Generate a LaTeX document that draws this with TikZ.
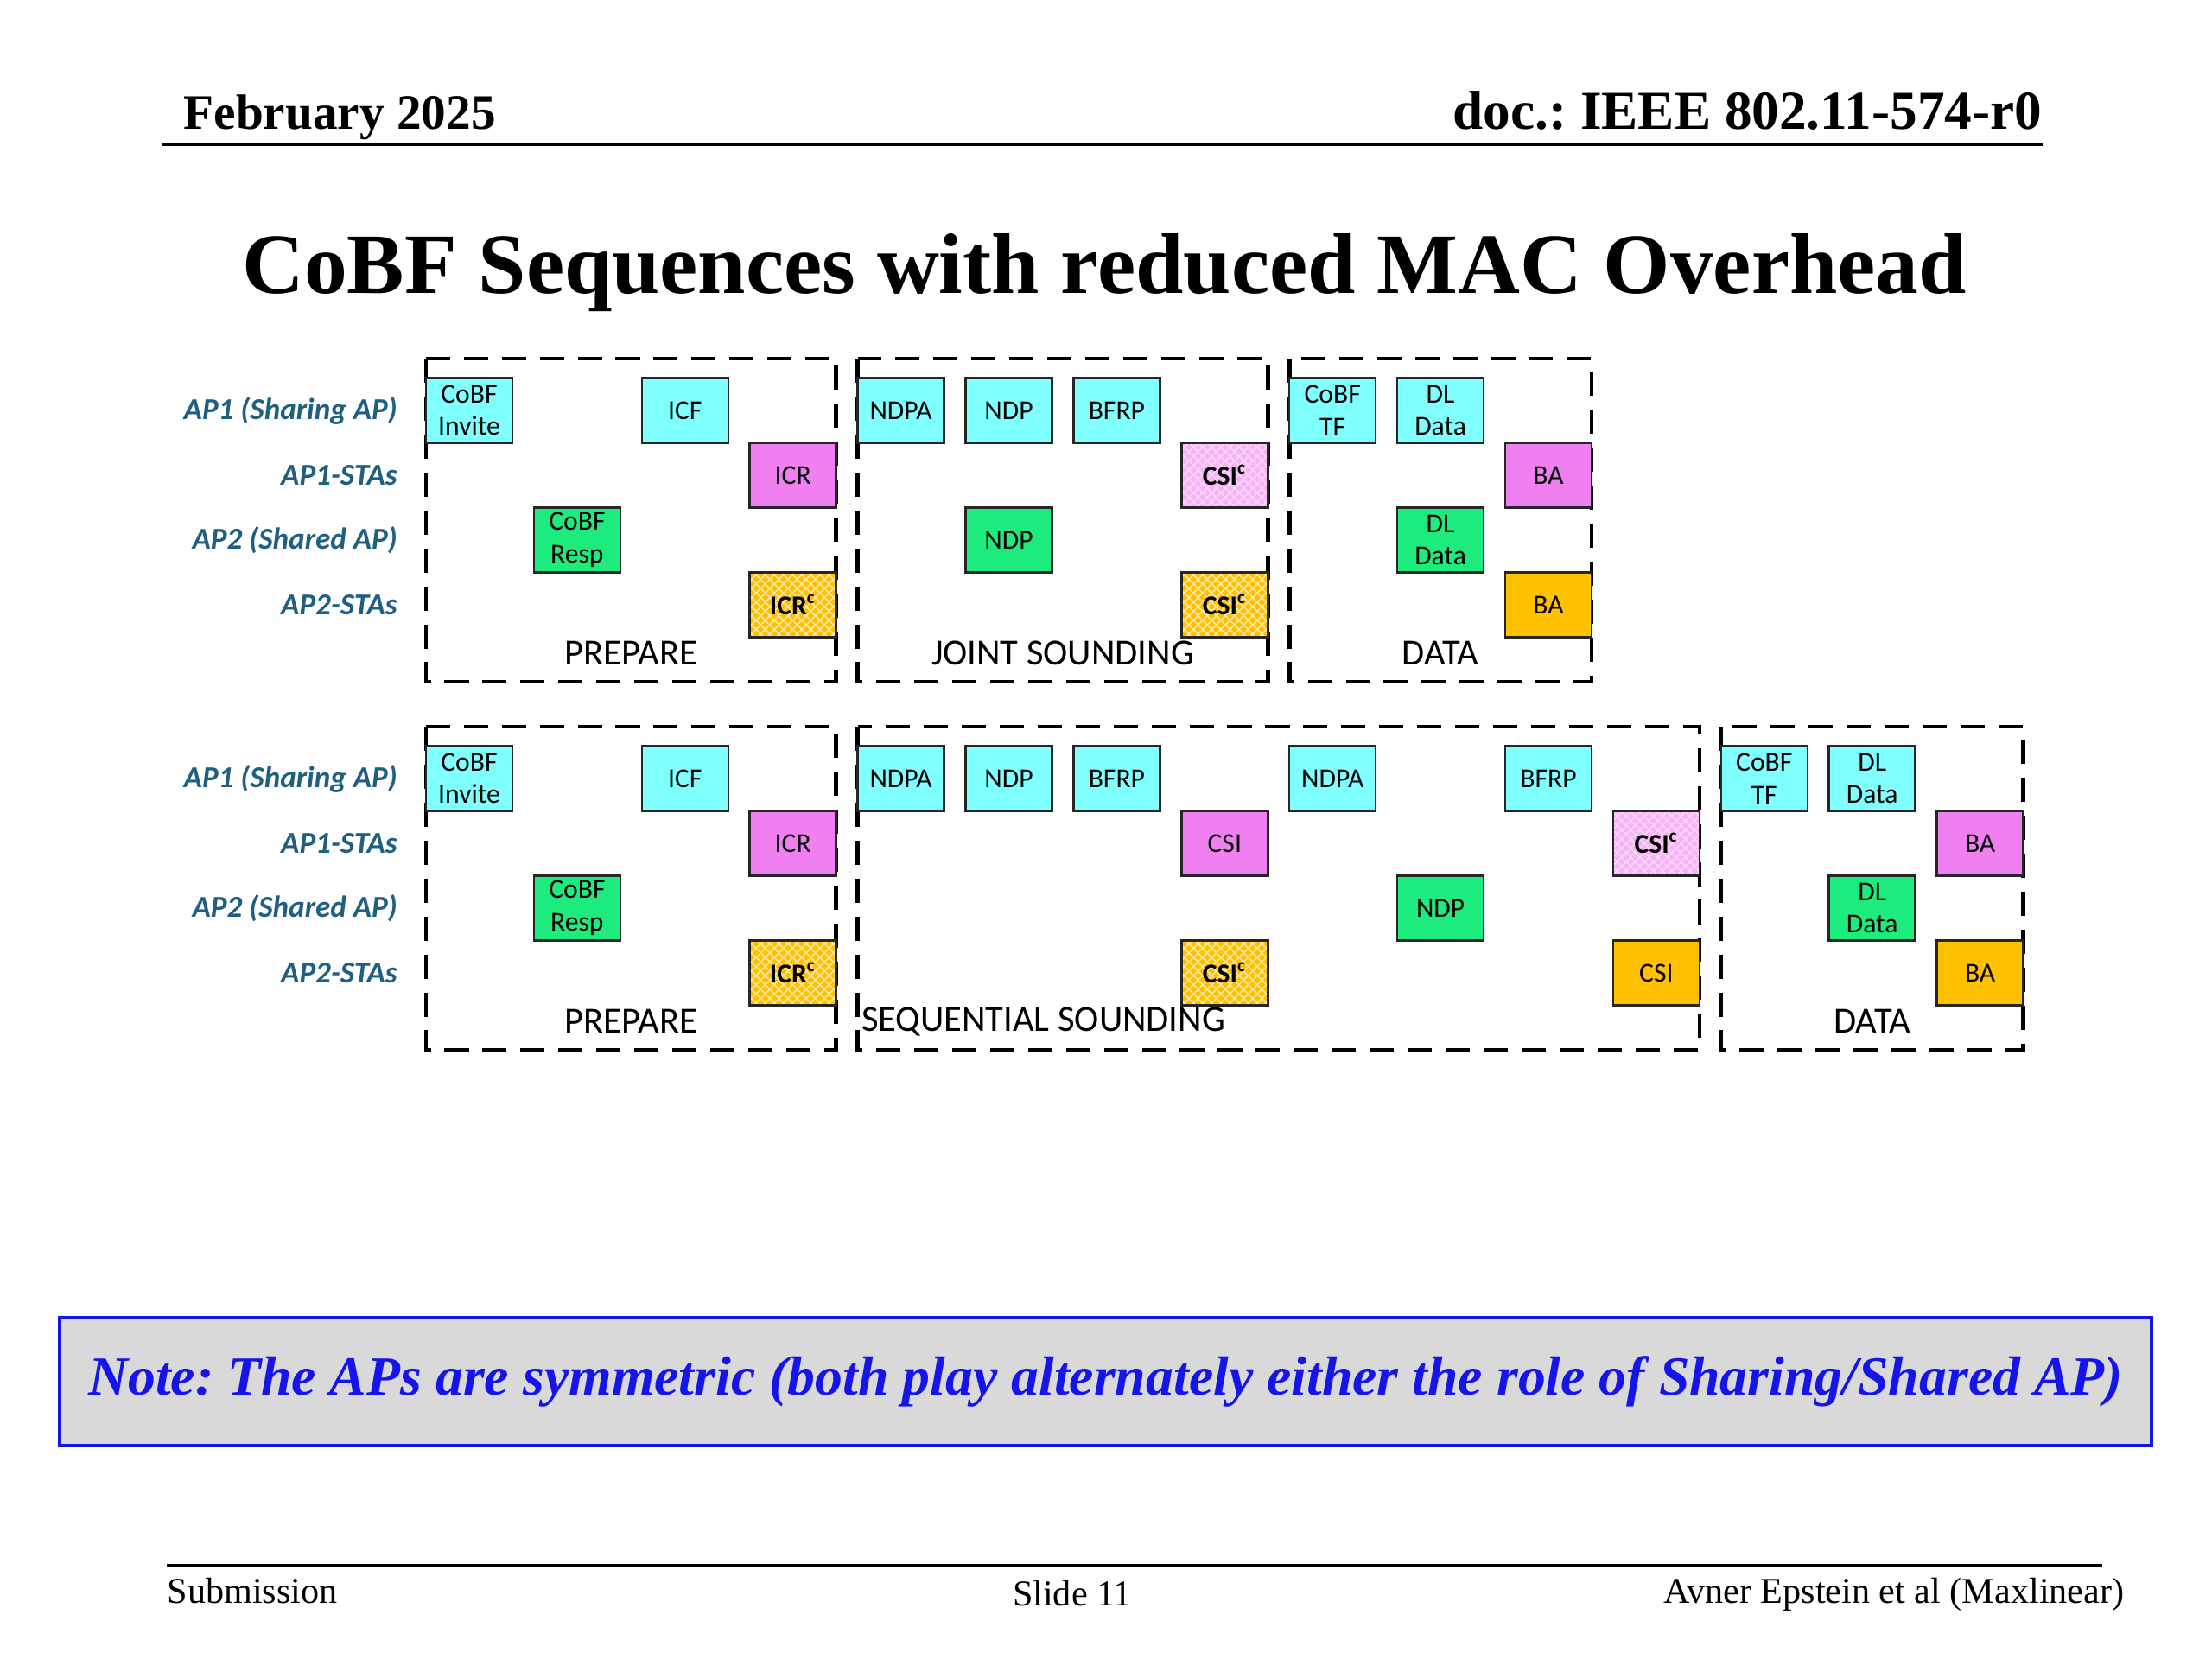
\documentclass[tikz,border=0pt]{standalone}
\usepackage{fontspec}
\setmainfont{Liberation Serif}
\newfontfamily\boxfont{Carlito}
\usetikzlibrary{patterns,positioning}
\definecolor{sharecol}{RGB}{128,255,255}
\definecolor{sta1col}{RGB}{240,128,240}
\definecolor{sharedcol}{RGB}{30,235,125}
\definecolor{sta2col}{RGB}{255,192,0}
\definecolor{lanecol}{RGB}{31,95,130}
\definecolor{notegray}{RGB}{217,217,217}
\definecolor{noteblue}{RGB}{20,20,235}
\tikzset{
    pkt/.style={draw=black!85, line width=0.7pt, minimum width=1cm, minimum height=0.75cm, inner sep=0pt, align=center, font=\boxfont\fontsize{9}{10.7}\selectfont},
    sharing/.style={pkt, fill=sharecol},
    sta1/.style={pkt, fill=sta1col},
    shared/.style={pkt, fill=sharedcol},
    sta2/.style={pkt, fill=sta2col},
    combined/.style={font=\boxfont\bfseries\fontsize{9}{10.7}\selectfont,
        postaction={pattern=north east lines, pattern color=white!70!#1},
        postaction={pattern=north west lines, pattern color=white!70!#1},
        postaction={draw=black!85, line width=0.7pt}},
    phase/.style={draw, line width=1.3pt, dash pattern=on 8pt off 4.5pt},
    phaselabel/.style={font=\boxfont\fontsize{12.1}{14}\selectfont, inner sep=0pt},
    lane/.style={font=\boxfont\bfseries\itshape\fontsize{10}{12}\selectfont, text=lanecol, anchor=east, inner sep=0pt}
}

\begin{document}
\frenchspacing
\begin{tikzpicture}
\useasboundingbox (0,0) rectangle (25.6,-19.2);

% header
\node[anchor=base west, inner sep=0pt, font=\bfseries\fontsize{16.3}{20}\selectfont] (month) at (2.12,-1.50) {February 2025};
\node[anchor=base east, inner sep=0pt, font=\bfseries\fontsize{18}{20}\selectfont] (docnum) at (23.64,-1.50) {doc.: IEEE 802.11-574-r0};
\draw[line width=1.1pt] (1.88,-1.67) -- (23.64,-1.67);
\node[anchor=base, inner sep=0pt, font=\bfseries\fontsize{28.3}{32}\selectfont] (title) at (12.78,-3.40) {CoBF Sequences with reduced MAC Overhead};

% joint sounding
\begin{scope}[shift={(5.43,-4.75)}, x=1.249cm, y=-0.75cm]
    \foreach \lbl [count=\r from 0] in {AP1 (Sharing AP), AP1-STAs, AP2 (Shared AP), AP2-STAs}
        \node[lane] (a-lane\r) at (-0.66,\r) {\lbl};
    \draw[phase] (-0.4,-0.8) rectangle (3.4,4.187);
    \draw[phase] (3.6,-0.8) rectangle (7.4,4.187);
    \draw[phase] (7.6,-0.8) rectangle (10.4,4.187);
    \node[phaselabel] (a-prepare) at (1.5,3.747) {PREPARE};
    \node[phaselabel] (a-joint) at (5.5,3.747) {JOINT SOUNDING};
    \node[phaselabel] (a-data) at (9,3.747) {DATA};
    \node[sharing] (a-invite) at (0,0) {CoBF\\Invite};
    \node[sharing] (a-icf) at (2,0) {ICF};
    \node[sta1] (a-icr) at (3,1) {ICR};
    \node[shared] (a-resp) at (1,2) {CoBF\\Resp};
    \node[sta2, combined=sta2col] (a-icrc) at (3,3) {ICR\textsuperscript{c}};
    \node[sharing] (a-ndpa) at (4,0) {NDPA};
    \node[sharing] (a-ndp1) at (5,0) {NDP};
    \node[sharing] (a-bfrp) at (6,0) {BFRP};
    \node[sta1, fill=sta1col!60!white, combined=sta1col] (a-csi1) at (7,1) {CSI\textsuperscript{c}};
    \node[shared] (a-ndp2) at (5,2) {NDP};
    \node[sta2, combined=sta2col] (a-csi2) at (7,3) {CSI\textsuperscript{c}};
    \node[sharing] (a-tf) at (8,0) {CoBF\\TF};
    \node[sharing] (a-dl1) at (9,0) {DL\\Data};
    \node[sta1] (a-ba1) at (10,1) {BA};
    \node[shared] (a-dl2) at (9,2) {DL\\Data};
    \node[sta2] (a-ba2) at (10,3) {BA};
\end{scope}

% sequential sounding
\begin{scope}[shift={(5.43,-9.01)}, x=1.249cm, y=-0.75cm]
    \foreach \lbl [count=\r from 0] in {AP1 (Sharing AP), AP1-STAs, AP2 (Shared AP), AP2-STAs}
        \node[lane] (b-lane\r) at (-0.66,\r) {\lbl};
    \draw[phase] (-0.4,-0.8) rectangle (3.4,4.187);
    \draw[phase] (3.6,-0.8) rectangle (11.4,4.187);
    \draw[phase] (11.6,-0.8) rectangle (14.4,4.187);
    \node[phaselabel] (b-prepare) at (1.5,3.747) {PREPARE};
    \node[phaselabel, anchor=west] (b-seq) at (3.63,3.747) {SEQUENTIAL SOUNDING};
    \node[phaselabel] (b-data) at (13,3.747) {DATA};
    \node[sharing] (b-invite) at (0,0) {CoBF\\Invite};
    \node[sharing] (b-icf) at (2,0) {ICF};
    \node[sta1] (b-icr) at (3,1) {ICR};
    \node[shared] (b-resp) at (1,2) {CoBF\\Resp};
    \node[sta2, combined=sta2col] (b-icrc) at (3,3) {ICR\textsuperscript{c}};
    \node[sharing] (b-ndpa1) at (4,0) {NDPA};
    \node[sharing] (b-ndp1) at (5,0) {NDP};
    \node[sharing] (b-bfrp1) at (6,0) {BFRP};
    \node[sta1] (b-csi1) at (7,1) {CSI};
    \node[sta2, combined=sta2col] (b-csi2) at (7,3) {CSI\textsuperscript{c}};
    \node[sharing] (b-ndpa2) at (8,0) {NDPA};
    \node[shared] (b-ndp2) at (9,2) {NDP};
    \node[sharing] (b-bfrp2) at (10,0) {BFRP};
    \node[sta1, fill=sta1col!60!white, combined=sta1col] (b-csi3) at (11,1) {CSI\textsuperscript{c}};
    \node[sta2] (b-csi4) at (11,3) {CSI};
    \node[sharing] (b-tf) at (12,0) {CoBF\\TF};
    \node[sharing] (b-dl1) at (13,0) {DL\\Data};
    \node[sta1] (b-ba1) at (14,1) {BA};
    \node[shared] (b-dl2) at (13,2) {DL\\Data};
    \node[sta2] (b-ba2) at (14,3) {BA};
\end{scope}

% note
\node[draw=noteblue, line width=1.3pt, fill=notegray, minimum width=24.21cm, minimum height=1.48cm, inner sep=0pt,
      text=noteblue, font=\bfseries\itshape\fontsize{18.15}{21}\selectfont] (note) at (12.795,-15.99)
      {Note: The APs are symmetric (both play alternately either the role of Sharing/Shared AP)};

% footer
\draw[line width=1.1pt] (1.93,-18.12) -- (24.33,-18.12);
\node[anchor=base west, inner sep=0pt, font=\fontsize{12}{14}\selectfont] (submission) at (1.93,-18.55) {Submission};
\node[anchor=base, inner sep=0pt, font=\fontsize{12}{14}\selectfont] (slide) at (12.41,-18.58) {Slide 11};
\node[anchor=base east, inner sep=0pt, font=\fontsize{12}{14}\selectfont] (authors) at (24.59,-18.55) {Avner Epstein et al (Maxlinear)};
\end{tikzpicture}
\end{document}
